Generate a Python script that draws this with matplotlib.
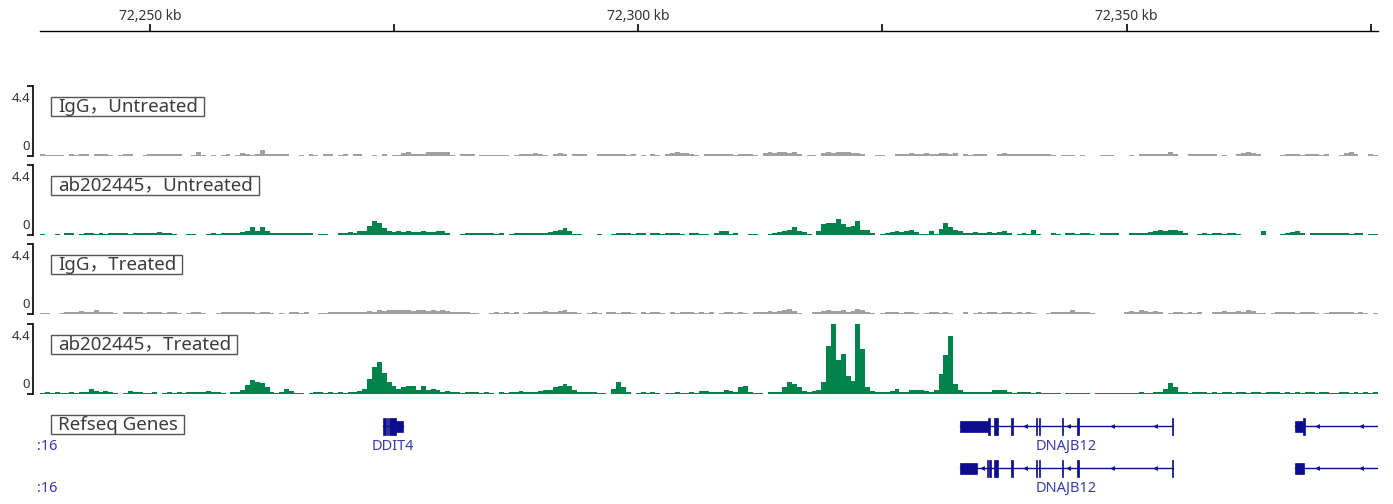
import numpy as np
import matplotlib
matplotlib.use('Agg')
import matplotlib.pyplot as plt
from matplotlib.patches import Rectangle

W, H = 1393, 504

# visible locus in kb, signal binned at 0.5 kb
view_start = 72238.75
view_end = 72375.75
bin_kb = 0.5
data_max = 4.4

igg_untreated = [
    0.12, 0.06, 0.06, 0.06, 0.06, 0, 0.08, 0.06, 0.1, 0.12,
    0, 0.1, 0.08, 0.12, 0.06, 0, 0.06, 0.1, 0.08, 0,
    0, 0.06, 0.1, 0.08, 0.12, 0.1, 0.12, 0.08, 0.1, 0,
    0, 0.06, 0.2, 0.06, 0, 0.06, 0, 0.06, 0.08, 0,
    0.06, 0.15, 0.12, 0.06, 0.1, 0.35, 0.12, 0.12, 0.1, 0.12,
    0.1, 0, 0, 0.06, 0, 0.08, 0.06, 0, 0.1, 0.08,
    0, 0.06, 0.1, 0, 0.12, 0.1, 0, 0, 0.06, 0,
    0.08, 0, 0.06, 0.06, 0.15, 0.2, 0.08, 0.1, 0.12, 0.2,
    0.25, 0.2, 0.25, 0.2, 0.06, 0, 0.12, 0.1, 0.12, 0,
    0.06, 0.06, 0.06, 0.06, 0.06, 0.06, 0, 0.06, 0.1, 0.12,
    0.1, 0.15, 0.12, 0.06, 0, 0.12, 0.15, 0.1, 0, 0.12,
    0.12, 0.1, 0, 0, 0.08, 0.1, 0.12, 0.1, 0.12, 0.08,
    0.06, 0.1, 0, 0.06, 0, 0.08, 0.06, 0, 0.12, 0.15,
    0.2, 0.15, 0.18, 0.12, 0.06, 0, 0.08, 0.1, 0.12, 0.08,
    0.1, 0.12, 0.06, 0.1, 0.12, 0.1, 0.06, 0, 0.15, 0.2,
    0.18, 0.25, 0.2, 0.15, 0.2, 0.12, 0, 0.06, 0.06, 0,
    0.15, 0.2, 0.18, 0.2, 0.25, 0.2, 0.15, 0.18, 0.1, 0,
    0, 0.06, 0.06, 0, 0, 0.1, 0.12, 0.08, 0.15, 0.1,
    0.12, 0.15, 0.1, 0.12, 0.15, 0.18, 0.12, 0.15, 0, 0.1,
    0.06, 0.1, 0.08, 0.1, 0, 0, 0.12, 0.15, 0.1, 0.12,
    0.1, 0.12, 0.1, 0.12, 0.08, 0.1, 0.12, 0.06, 0, 0.06,
    0.06, 0.06, 0, 0.06, 0, 0, 0, 0.06, 0.06, 0.06,
    0, 0, 0, 0.06, 0, 0.08, 0.1, 0.08, 0.1, 0.12,
    0.08, 0.2, 0.1, 0, 0, 0.1, 0.12, 0.1, 0.12, 0.08,
    0.1, 0, 0.06, 0, 0, 0.12, 0.15, 0.2, 0.15, 0.12,
    0, 0, 0, 0, 0.06, 0.1, 0.08, 0.1, 0.06, 0.1,
    0.08, 0.1, 0.06, 0.08, 0, 0, 0.06, 0.15, 0.2, 0.12,
    0, 0, 0.1, 0.06,
]

ab_untreated = [
    0.06, 0, 0, 0.06, 0, 0.1, 0.12, 0, 0.06, 0.1,
    0.1, 0.06, 0.12, 0.06, 0.1, 0.12, 0.08, 0.12, 0.06, 0.1,
    0.08, 0.12, 0.1, 0.12, 0.15, 0.1, 0.12, 0.06, 0, 0,
    0.06, 0.06, 0, 0, 0.06, 0.08, 0.06, 0.1, 0.08, 0.12,
    0.1, 0.15, 0.25, 0.5, 0.2, 0.45, 0.2, 0.12, 0.1, 0.12,
    0.12, 0.1, 0.12, 0.1, 0.12, 0.1, 0, 0.06, 0.06, 0,
    0, 0.12, 0.1, 0.15, 0.12, 0.2, 0.25, 0.55, 0.85, 0.7,
    0.4, 0.2, 0.18, 0.2, 0.15, 0.2, 0.18, 0.15, 0.2, 0.18,
    0.15, 0.25, 0.2, 0.1, 0, 0, 0.06, 0.1, 0.12, 0.1,
    0.08, 0.12, 0.1, 0.06, 0.08, 0, 0.06, 0.1, 0.12, 0.1,
    0.12, 0.08, 0.1, 0.12, 0.15, 0.2, 0.3, 0.38, 0.2, 0.06,
    0.06, 0, 0, 0, 0.06, 0, 0, 0.06, 0.1, 0.08,
    0.1, 0.06, 0.12, 0.08, 0, 0.1, 0.12, 0.06, 0.1, 0.08,
    0.12, 0.06, 0, 0.08, 0.12, 0.06, 0.06, 0, 0.12, 0.2,
    0.2, 0.06, 0.12, 0, 0, 0.06, 0.06, 0, 0, 0.06,
    0.1, 0.15, 0.25, 0.3, 0.45, 0.25, 0.15, 0.06, 0, 0.2,
    0.65, 0.75, 0.7, 1.0, 0.65, 0.5, 0.55, 0.85, 0.3, 0.3,
    0.12, 0, 0.06, 0.12, 0.15, 0.2, 0.15, 0.25, 0.3, 0.15,
    0.06, 0.06, 0.2, 0.06, 0.35, 0.75, 0.5, 0.3, 0.25, 0.1,
    0.12, 0.15, 0.1, 0.12, 0.15, 0.1, 0.15, 0.25, 0.12, 0,
    0.06, 0.12, 0.06, 0.3, 0.06, 0, 0, 0.12, 0.06, 0,
    0.08, 0.1, 0.06, 0.08, 0.1, 0.06, 0, 0.12, 0.12, 0.1,
    0.12, 0, 0, 0.12, 0.1, 0.12, 0.1, 0.15, 0.25, 0.3,
    0.25, 0.3, 0.28, 0.2, 0.12, 0, 0, 0.06, 0.1, 0.06,
    0.08, 0.1, 0.06, 0.08, 0.1, 0.06, 0, 0, 0, 0,
    0.2, 0, 0, 0, 0.06, 0.12, 0.15, 0.2, 0.12, 0,
    0.12, 0.1, 0.12, 0.08, 0.12, 0.1, 0.08, 0.12, 0.06, 0.08,
    0.1, 0, 0.06, 0.06,
]

igg_treated = [
    0.06, 0.06, 0, 0, 0.06, 0.08, 0.1, 0.12, 0.15, 0.1,
    0.12, 0.2, 0.1, 0.08, 0.12, 0.06, 0, 0.1, 0.08, 0.12,
    0.1, 0.06, 0.12, 0.08, 0.1, 0.06, 0.12, 0.1, 0.06, 0,
    0.06, 0.08, 0.1, 0.06, 0, 0, 0.06, 0.1, 0.08, 0.1,
    0.12, 0.1, 0.08, 0.12, 0.06, 0.1, 0.08, 0.06, 0, 0.06,
    0, 0.08, 0.1, 0.06, 0.08, 0, 0, 0.06, 0.06, 0.1,
    0.08, 0.1, 0.12, 0.1, 0.08, 0.12, 0.1, 0.15, 0.12, 0.2,
    0.18, 0.22, 0.25, 0.2, 0.25, 0.22, 0.18, 0.25, 0.2, 0.15,
    0.2, 0.18, 0.22, 0.15, 0.1, 0.12, 0.1, 0.08, 0.06, 0.06,
    0, 0, 0.06, 0.08, 0.06, 0.1, 0.06, 0.08, 0, 0.06,
    0.1, 0.08, 0.12, 0.15, 0.12, 0.1, 0.15, 0.25, 0.12, 0.1,
    0.06, 0, 0.06, 0.08, 0.06, 0, 0.1, 0.08, 0.06, 0.1,
    0.08, 0.06, 0, 0.1, 0.06, 0.08, 0.1, 0.06, 0, 0.08,
    0.06, 0.1, 0.08, 0.1, 0.06, 0.08, 0.06, 0.1, 0, 0.06,
    0.08, 0.1, 0.06, 0.08, 0.06, 0, 0.08, 0.12, 0.1, 0.15,
    0.12, 0.15, 0.2, 0.3, 0.15, 0.06, 0, 0, 0.1, 0.12,
    0.15, 0.2, 0.18, 0.15, 0.2, 0.12, 0.15, 0.3, 0.2, 0.12,
    0.06, 0, 0.06, 0.08, 0.1, 0.08, 0.06, 0.1, 0.08, 0.06,
    0, 0.06, 0.08, 0.1, 0.06, 0.08, 0.06, 0, 0, 0.1,
    0, 0.06, 0.08, 0.06, 0.1, 0.08, 0.06, 0.1, 0.08, 0.06,
    0.08, 0.06, 0.1, 0.06, 0, 0, 0.06, 0.1, 0.08, 0.12,
    0.1, 0.2, 0.12, 0.08, 0.1, 0.06, 0, 0, 0, 0,
    0, 0, 0.1, 0.15, 0.12, 0.25, 0.15, 0.12, 0.15, 0.1,
    0, 0.06, 0.1, 0.08, 0.06, 0.1, 0.06, 0.08, 0, 0,
    0.1, 0.12, 0.15, 0.12, 0.1, 0.15, 0.12, 0.2, 0.15, 0.06,
    0.06, 0, 0.06, 0.1, 0.08, 0.12, 0.1, 0.06, 0.12, 0.1,
    0.08, 0.06, 0, 0.06, 0.1, 0.12, 0.08, 0.1, 0.12, 0.06,
    0.1, 0.06, 0, 0.06,
]

ab_treated = [
    0.06, 0.08, 0.06, 0.08, 0.06, 0.06, 0.08, 0.06, 0.1, 0.08,
    0.3, 0.15, 0.12, 0.15, 0.1, 0.05, 0, 0.06, 0.15, 0.12,
    0.1, 0.06, 0.06, 0.08, 0, 0.06, 0.08, 0.06, 0.1, 0.06,
    0.08, 0.12, 0.12, 0.1, 0.15, 0.12, 0.1, 0.06, 0, 0.08,
    0.12, 0.2, 0.55, 0.85, 0.7, 0.65, 0.4, 0.12, 0.06, 0.08,
    0.3, 0.15, 0.06, 0.06, 0, 0.06, 0.12, 0.08, 0.06, 0.12,
    0.06, 0.08, 0.06, 0.12, 0.12, 0.15, 0.3, 0.9, 1.65, 2.0,
    1.3, 0.75, 0.45, 0.28, 0.38, 0.45, 0.5, 0.25, 0.5, 0.25,
    0.3, 0.2, 0.12, 0.18, 0.08, 0.1, 0.06, 0.1, 0.12, 0.08,
    0.06, 0.1, 0.06, 0, 0.1, 0.06, 0.12, 0.1, 0.15, 0.12,
    0.1, 0.12, 0.15, 0.2, 0.25, 0.4, 0.45, 0.6, 0.45, 0.25,
    0.12, 0.08, 0.12, 0.1, 0.06, 0.06, 0, 0.3, 0.75, 0.4,
    0.08, 0, 0.06, 0.08, 0.06, 0.08, 0.06, 0, 0.06, 0.06,
    0.08, 0.06, 0.06, 0.12, 0.06, 0.18, 0.15, 0.1, 0.08, 0.12,
    0.2, 0.15, 0.08, 0.4, 0.5, 0.12, 0.06, 0.06, 0, 0.08,
    0.12, 0.1, 0.4, 0.7, 0.62, 0.38, 0.15, 0.12, 0.15, 0.2,
    0.75, 3.0, 4.8, 2.1, 2.5, 1.1, 0.8, 4.8, 2.8, 0.4,
    0.15, 0.12, 0.1, 0.12, 0.15, 0.3, 0.12, 0.1, 0.2, 0.25,
    0.2, 0.15, 0.08, 0.2, 1.2, 2.4, 3.6, 0.6, 0.25, 0.12,
    0.1, 0.12, 0.1, 0.08, 0.1, 0.2, 0.25, 0.2, 0.1, 0.06,
    0.12, 0.08, 0.12, 0.06, 0.08, 0.06, 0.06, 0.05, 0.06, 0,
    0.06, 0.05, 0.06, 0.06, 0.05, 0, 0.06, 0.06, 0.05, 0.06,
    0.06, 0.05, 0.06, 0.06, 0.06, 0.08, 0.06, 0.06, 0.08, 0.12,
    0.3, 0.65, 0.4, 0.12, 0.08, 0.06, 0.1, 0.08, 0.12, 0.06,
    0.1, 0.06, 0.08, 0.12, 0.06, 0.1, 0.08, 0.06, 0.12, 0.08,
    0.06, 0.1, 0.08, 0.12, 0.06, 0.08, 0.06, 0.1, 0.06, 0.08,
    0.1, 0.06, 0.08, 0.12, 0.06, 0.06, 0.1, 0.08, 0.06, 0.08,
    0.06, 0.1, 0.06, 0.08,
]

track_names = ['IgG，Untreated', 'ab202445，Untreated', 'IgG，Treated', 'ab202445，Treated']
track_values = [igg_untreated, ab_untreated, igg_treated, ab_treated]
track_colors = ['#a0a0a0', '#00834a', '#a0a0a0', '#00834a']

ruler_ticks = [72250, 72275, 72300, 72325, 72350, 72375]
ruler_labelled = [72250, 72300, 72350]

# Refseq transcripts: (start, end, thick) exons in kb
transcripts = [
    dict(name='DDIT4', row=0, strand='+', start=72273.85, end=72275.90,
         exons=[(72273.85, 72274.16, True), (72274.33, 72274.43, True),
                (72274.50, 72275.18, True), (72275.18, 72275.90, False)]),
    dict(name='DNAJB12', row=0, strand='-', start=72332.91, end=72354.81,
         exons=[(72332.91, 72335.77, False), (72335.77, 72335.98, True),
                (72336.39, 72336.80, True), (72338.13, 72338.33, True),
                (72340.69, 72340.84, True), (72340.99, 72341.15, True),
                (72343.35, 72343.50, True), (72344.93, 72345.09, True),
                (72354.64, 72354.81, True)]),
    dict(name='', row=0, strand='-', start=72367.30, end=72390.0,
         exons=[(72367.30, 72368.02, False), (72368.02, 72368.27, True)]),
    dict(name='DNAJB12', row=1, strand='-', start=72332.91, end=72354.81,
         exons=[(72332.91, 72334.65, False), (72335.72, 72335.82, True),
                (72335.93, 72336.08, True), (72336.39, 72336.80, True),
                (72338.13, 72338.33, True), (72340.69, 72340.84, True),
                (72340.99, 72341.15, True), (72343.35, 72343.50, True),
                (72344.93, 72345.09, True), (72354.64, 72354.81, True)]),
    dict(name='', row=1, strand='-', start=72367.30, end=72390.0,
         exons=[(72367.30, 72368.22, False)]),
]
clipped_labels = [':16', ':16']

gene_color = '#0c0c8e'
gene_label_color = '#3a3aae'
text_color = '#3c3c3c'
label_font = ['Noto Sans', 'Noto Sans CJK SC', 'DejaVu Sans']

fig = plt.figure(figsize=(W / 100, H / 100), dpi=100)


def px_rect(x0, top, w, h):
    return [x0 / W, 1 - (top + h) / H, w / W, h / H]


left, right = 40, 1378

# ruler
ax_r = fig.add_axes(px_rect(left, 5, right - left, 26))
ax_r.set_xlim(view_start, view_end)
ax_r.set_ylim(0, 1)
for s in ['top', 'right', 'left']:
    ax_r.spines[s].set_visible(False)
ax_r.spines['bottom'].set_linewidth(1.0)
ax_r.set_xticks(ruler_ticks)
ax_r.set_yticks([])
ax_r.tick_params(axis='x', direction='in', length=5, width=1.2, labelbottom=False)
ax_r.patch.set_alpha(0)
for t in ruler_labelled:
    ax_r.text(t, 0.54, f'{t:,} kb', transform=ax_r.get_xaxis_transform(),
              ha='center', va='center', fontsize=10, family=label_font, color='#333333')

# data tracks
track_tops = [85.5, 164.5, 243.5, 323.5]
track_h = 70
label_texts = []
for top, name, vals, col in zip(track_tops, track_names, track_values, track_colors):
    ax = fig.add_axes(px_rect(left, top, right - left, track_h))
    edges = view_start + bin_kb * np.arange(len(vals) + 1)
    ax.stairs(vals, edges, fill=True, color=col, lw=0)
    ax.set_xlim(view_start, view_end)
    ax.set_ylim(0, data_max)
    for s in ['top', 'right', 'bottom']:
        ax.spines[s].set_visible(False)
    ax.spines['left'].set_position(('outward', 5))
    ax.spines['left'].set_bounds(0, data_max)
    ax.spines['left'].set_linewidth(1.2)
    ax.set_yticks([0, data_max])
    ax.set_yticklabels([])
    ax.set_xticks([])
    ax.tick_params(axis='y', direction='out', length=4, width=1.2)
    ax.patch.set_alpha(0)
    fig.text(30 / W, 1 - (top + 13) / H, f'{data_max:g}', ha='right', va='center',
             fontsize=9.5, family=label_font, color='#333333')
    fig.text(30 / W, 1 - (top + 61) / H, '0', ha='right', va='center',
             fontsize=9.5, family=label_font, color='#333333')
    label_texts.append((fig.text(58 / W, 1 - (top + 21) / H, name, ha='left', va='center',
                                 fontsize=13.5, family=label_font, color=text_color, zorder=6),
                        top + 21))

# gene track
ax_g = fig.add_axes(px_rect(left, 404, right - left, 100))
ax_g.set_xlim(view_start, view_end)
ax_g.set_ylim(100, 0)
ax_g.axis('off')
row_y = [22, 64]
for tr in transcripts:
    yc = row_y[tr['row']]
    ax_g.plot([tr['start'], tr['end']], [yc, yc], color=gene_color, lw=1.0)
    for s, e, thick in tr['exons']:
        h = 17 if thick else 11
        ax_g.add_patch(Rectangle((s, yc - h / 2), e - s, h, facecolor=gene_color,
                                 edgecolor=gene_color, lw=0.5))
    if tr['strand'] == '-':
        arrows = np.arange(tr['start'] + 2.25, tr['end'], 4.44)
        arrows = [a for a in arrows
                  if not any(s - 0.2 <= a <= e + 0.2 for s, e, _ in tr['exons'])]
        ax_g.plot(arrows, [yc] * len(arrows), ls='none', marker='<', ms=3.5,
                  color=gene_color, mew=0)
    if tr['name']:
        ax_g.text((tr['start'] + tr['end']) / 2, yc + 20.5, tr['name'], ha='center',
                  va='center', fontsize=10.5, family=label_font, color=gene_label_color)
for r, lab in enumerate(clipped_labels):
    fig.text(37 / W, 1 - (404 + row_y[r] + 20.5) / H, lab, ha='left', va='center',
             fontsize=10.5, family=label_font, color=gene_label_color)

label_texts.append((fig.text(58 / W, 1 - 424.5 / H, 'Refseq Genes', ha='left', va='center',
                             fontsize=13.5, family=label_font, color=text_color, zorder=6),
                    424.5))

# boxes around the track names
fig.canvas.draw()
for t, yc in label_texts:
    bb = t.get_window_extent()
    x0, x1 = 51, bb.x1 + 6
    y0 = H - yc - 9.5
    fig.add_artist(Rectangle((x0 / W, y0 / H), (x1 - x0) / W, 19 / H,
                             transform=fig.transFigure, facecolor='white',
                             edgecolor='#555555', lw=1.0, zorder=5))

fig.savefig('out.png', dpi=100)
